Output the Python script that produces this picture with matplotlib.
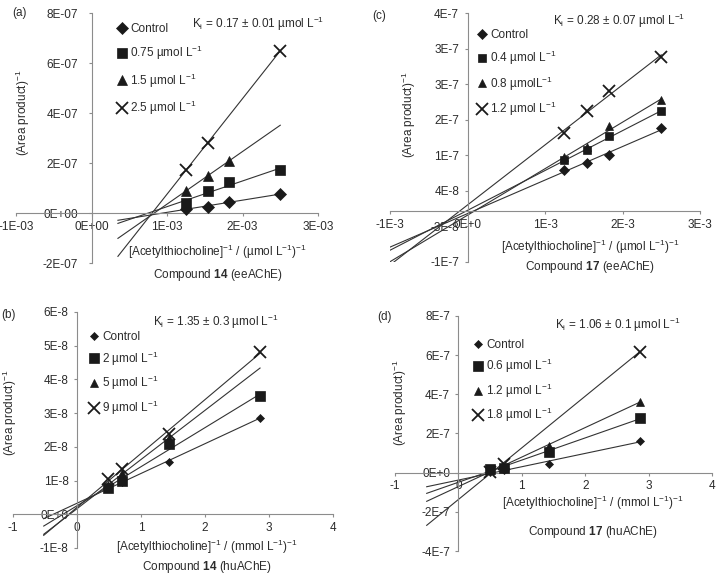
import numpy as np
import matplotlib
matplotlib.use("Agg")
import matplotlib.pyplot as plt

plt.rcParams['font.family'] = ['Liberation Sans', 'DejaVu Sans']
plt.rcParams['mathtext.fontset'] = 'custom'
plt.rcParams['mathtext.rm'] = 'Liberation Sans'
plt.rcParams['mathtext.bf'] = 'Liberation Sans:bold'
plt.rcParams['mathtext.it'] = 'Liberation Sans:italic'

nan = np.nan

# ---- panel (a): compound 14, eeAChE ----
a_x = [1.25e-3, 1.54e-3, 1.82e-3, 2.5e-3]
a_ctrl = [1.7e-8, 2.5e-8, 4.4e-8, 7.6e-8]
a_s1 = [3.9e-8, 8.7e-8, 1.23e-7, 1.72e-7]
a_s2 = [8.9e-8, 1.47e-7, 2.09e-7, nan]
a_s3 = [1.72e-7, 2.8e-7, nan, 6.49e-7]
a_labels = ["Control", r"0.75 µmol L$^{\mathregular{-1}}$", r"1.5 µmol L$^{\mathregular{-1}}$",
            r"2.5 µmol L$^{\mathregular{-1}}$"]
a_xticks = [-1e-3, 0, 1e-3, 2e-3, 3e-3]
a_xticklabels = ["-1E-03", "0E+00", "1E-03", "2E-03", "3E-03"]
a_yticks = [-2e-7, 0, 2e-7, 4e-7, 6e-7, 8e-7]
a_yticklabels = ["-2E-07", "0E+00", "2E-07", "4E-07", "6E-07", "8E-07"]

# ---- panel (c): compound 17, eeAChE ----
c_x = [1.25e-3, 1.54e-3, 1.82e-3, 2.5e-3]
c_ctrl = [8.2e-8, 9.5e-8, 1.10e-7, 1.63e-7]
c_s1 = [1.00e-7, 1.20e-7, 1.47e-7, 1.97e-7]
c_s2 = [1.06e-7, 1.27e-7, 1.68e-7, 2.18e-7]
c_s3 = [1.53e-7, 1.97e-7, 2.36e-7, 3.03e-7]
c_labels = ["Control", r"0.4 µmol L$^{\mathregular{-1}}$", r"0.8 µmolL$^{\mathregular{-1}}$",
            r"1.2 µmol L$^{\mathregular{-1}}$"]
c_xticks = [-1e-3, 0, 1e-3, 2e-3, 3e-3]
c_xticklabels = ["-1E-3", "0E+0", "1E-3", "2E-3", "3E-3"]
c_yticks = [-1e-7, -3e-8, 4e-8, 1.1e-7, 1.8e-7, 2.5e-7, 3.2e-7, 3.9e-7]
c_yticklabels = ["-1E-7", "-3E-8", "4E-8", "1E-7", "2E-7", "3E-7", "3E-7", "4E-7"]

# ---- panel (b): compound 14, huAChE ----
b_x = [0.48, 0.71, 1.43, 2.86]
b_ctrl = [0.78e-8, 0.95e-8, 1.55e-8, 2.87e-8]
b_s1 = [0.79e-8, 0.99e-8, 2.07e-8, 3.51e-8]
b_s2 = [0.86e-8, 1.21e-8, 2.25e-8, nan]
b_s3 = [1.04e-8, 1.34e-8, 2.38e-8, 4.82e-8]
b_labels = ["Control", r"2 µmol L$^{\mathregular{-1}}$", r"5 µmol L$^{\mathregular{-1}}$",
            r"9 µmol L$^{\mathregular{-1}}$"]
b_xticks = [-1, 0, 1, 2, 3, 4]
b_xticklabels = ["-1", "0", "1", "2", "3", "4"]
b_yticks = [-1e-8, 0, 1e-8, 2e-8, 3e-8, 4e-8, 5e-8, 6e-8]
b_yticklabels = ["-1E-8", "0E+0", "1E-8", "2E-8", "3E-8", "4E-8", "5E-8", "6E-8"]

# ---- panel (d): compound 17, huAChE ----
d_x = [0.5, 0.72, 1.43, 2.86]
d_ctrl = [0.05e-7, 0.12e-7, 0.44e-7, 1.63e-7]
d_s1 = [0.19e-7, 0.26e-7, 1.04e-7, 2.79e-7]
d_s2 = [0.15e-7, 0.30e-7, 1.38e-7, 3.63e-7]
d_s3 = [0.02e-7, 0.45e-7, nan, 6.18e-7]
d_labels = ["Control", r"0.6 µmol L$^{\mathregular{-1}}$", r"1.2 µmol L$^{\mathregular{-1}}$",
            r"1.8 µmol L$^{\mathregular{-1}}$"]
d_xticks = [-1, 0, 1, 2, 3, 4]
d_xticklabels = ["-1", "0", "1", "2", "3", "4"]
d_yticks = [-4e-7, -2e-7, 0, 2e-7, 4e-7, 6e-7, 8e-7]
d_yticklabels = ["-4E-7", "-2E-7", "0E+0", "2E-7", "4E-7", "6E-7", "8E-7"]

W, H = 723, 579
fig = plt.figure(figsize=(W / 100, H / 100), dpi=100)


def fx(px):
    return px / W


def fy(py):
    return 1 - py / H


markers = ['D', 's', '^', 'x']
txt = '#2b2b2b'
axcol = '#8c8c8c'
fs = 8.5


def panel(rect, x, series, labels, line_x0, xlim, ylim, xticks, xtl, yticks, ytl,
          msizes, leg_xy, leg_space, letter, letter_xy, ki, ki_xy, unit,
          comp, enzyme, ylab_xy, xlab_xy, comp_xy, ypad):
    ax = fig.add_axes(rect)
    x = np.array(x)
    for ys, m, ms, lab in zip(series, markers, msizes, labels):
        ys = np.array(ys)
        ok = ~np.isnan(ys)
        k, b = np.polyfit(x[ok], ys[ok], 1)
        xl = np.array([line_x0, x.max()])
        ax.plot(xl, k * xl + b, color='#333333', lw=0.8, zorder=2)
        ax.plot(x[ok], ys[ok], linestyle='none', marker=m, ms=ms, color='#1a1a1a',
                mew=1.3 if m == 'x' else 0.5, label=lab, zorder=3)
    ax.set_xlim(xlim)
    ax.set_ylim(ylim)
    ax.spines['left'].set_position(('data', 0))
    ax.spines['bottom'].set_position(('data', 0))
    ax.spines['top'].set_visible(False)
    ax.spines['right'].set_visible(False)
    for s in ('left', 'bottom'):
        ax.spines[s].set_color(axcol)
        ax.spines[s].set_linewidth(0.8)
    ax.set_xticks(xticks)
    ax.set_xticklabels(xtl)
    ax.set_yticks(yticks)
    ax.set_yticklabels(ytl)
    ax.tick_params(direction='out', length=2.5, width=0.8, color=axcol,
                   labelsize=fs, labelcolor=txt)
    ax.tick_params(axis='x', pad=3)
    ax.tick_params(axis='y', pad=ypad)
    ax.patch.set_visible(False)
    ax.legend(loc='upper left', bbox_to_anchor=(fx(leg_xy[0]), fy(leg_xy[1])),
              bbox_transform=fig.transFigure, frameon=False, fontsize=fs,
              handlelength=0.8, handletextpad=0.3, borderpad=0, borderaxespad=0,
              labelspacing=leg_space, labelcolor=txt)
    fig.text(fx(letter_xy[0]), fy(letter_xy[1]), letter, fontsize=fs, color=txt,
             ha='left', va='center')
    fig.text(fx(ki_xy[0]), fy(ki_xy[1]),
             r"K$_{\mathregular{i}}$ = " + ki + r" µmol L$^{\mathregular{-1}}$",
             fontsize=fs, color=txt, ha='left', va='center')
    fig.text(fx(ylab_xy[0]), fy(ylab_xy[1]), r"(Area product)$^{\mathregular{-1}}$",
             fontsize=fs, color=txt, rotation=90, ha='center', va='center')
    fig.text(fx(xlab_xy[0]), fy(xlab_xy[1]),
             r"[Acetylthiocholine]$^{\mathregular{-1}}$ / (" + unit +
             r" L$^{\mathregular{-1}}$)$^{\mathregular{-1}}$",
             fontsize=fs, color=txt, ha='center', va='center')
    fig.text(fx(comp_xy[0]), fy(comp_xy[1]),
             r"Compound $\mathbf{" + comp + r"}$ (" + enzyme + ")",
             fontsize=fs, color=txt, ha='center', va='center')
    return ax


panel([fx(16), fy(263), fx(318 - 16), (263 - 13) / H], a_x, [a_ctrl, a_s1, a_s2, a_s3],
      a_labels, 0.35e-3, (-1e-3, 3e-3), (-2e-7, 8e-7), a_xticks, a_xticklabels,
      a_yticks, a_yticklabels, [6.5, 7, 7, 8.5], (117, 23), 0.77,
      "(a)", (12, 13), "0.17 ± 0.01", (192, 24), "µmol", "14", "eeAChE",
      (23, 113), (217, 252), (218, 275), 7)

panel([fx(390), fy(262), fx(700 - 390), (262 - 13) / H], c_x, [c_ctrl, c_s1, c_s2, c_s3],
      c_labels, -1e-3, (-1e-3, 3e-3), (-1e-7, 3.9e-7), c_xticks, c_xticklabels,
      c_yticks, c_yticklabels, [5, 6, 6, 8], (477, 29), 0.64,
      "(c)", (372, 16), "0.28 ± 0.07", (553, 21), "µmol", "17", "eeAChE",
      (409, 115), (590, 247), (590, 267), 3.5)

panel([fx(13), fy(548), fx(333 - 13), (548 - 312) / H], b_x, [b_ctrl, b_s1, b_s2, b_s3],
      b_labels, -0.52, (-1, 4), (-1e-8, 6e-8), b_xticks, b_xticklabels,
      b_yticks, b_yticklabels, [4.5, 6.5, 5.5, 8], (89, 331), 0.54,
      "(b)", (1, 315), "1.35 ± 0.3", (153, 322), "mmol", "14", "huAChE",
      (10, 413), (207, 547), (207, 567), 3.5)

panel([fx(395), fy(551), fx(712 - 395), (551 - 316) / H], d_x, [d_ctrl, d_s1, d_s2, d_s3],
      d_labels, -0.5, (-1, 4), (-4e-7, 8e-7), d_xticks, d_xticklabels,
      d_yticks, d_yticklabels, [4.5, 6.5, 5.5, 8], (473, 339), 0.52,
      "(d)", (377, 317), "1.06 ± 0.1", (555, 325), "mmol", "17", "huAChE",
      (400, 403), (593, 503), (593, 532), 3.5)

fig.savefig("out.png", dpi=100)
